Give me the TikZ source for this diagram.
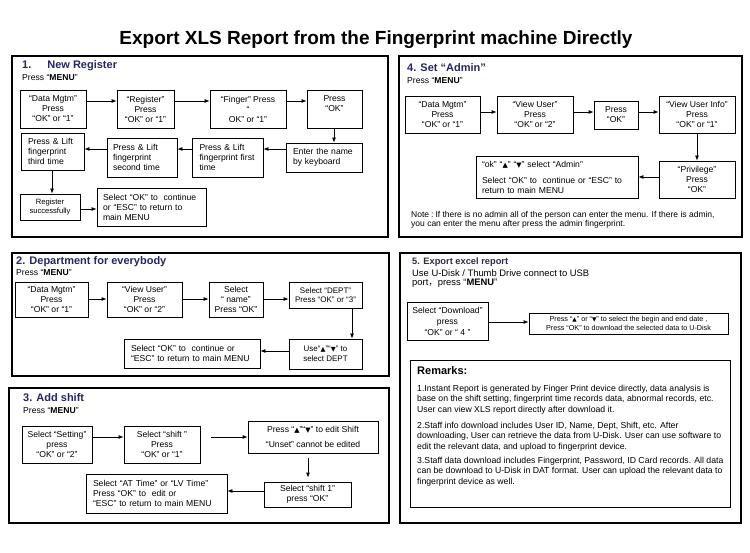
\documentclass[tikz,border=0pt]{standalone}
\usepackage{fontspec}
\setmainfont{Liberation Sans}
\newfontfamily\mysymf[Scale=0.8]{DejaVu Sans}
\newfontfamily\mycjkf{Noto Sans CJK SC}
\usetikzlibrary{arrows.meta}
\definecolor{titleblue}{RGB}{38,38,100}
\definecolor{fivecol}{RGB}{45,45,70}
\newcommand\tup{{\mysymf ▲}}
\newcommand\tdn{{\mysymf ▼}}
\newcommand\myboxfont{\fontsize{8.6}{10}\selectfont}
\newcommand\mysmallfont{\fontsize{8}{9.5}\selectfont}
\newcommand\mysecfont{\fontsize{11}{13}\selectfont\bfseries}
\newcommand\mytitlefont{\fontsize{19}{22}\selectfont\bfseries}
\newcommand\myremfont{\fontsize{8.7}{10.4}\selectfont}
\begin{document}
\begin{tikzpicture}[x=1pt,y=-1pt,
  box/.style={draw, line width=0.8pt, inner sep=0pt, align=center, font=\myboxfont},
  lbox/.style={box, align=left},
  panel/.style={draw, line width=1.8pt},
  arr/.style={line width=0.8pt, -{Latex[length=5pt,width=4pt]}},
  sect/.style={anchor=west, inner sep=0pt, font=\mysecfont, text=titleblue},
  sub/.style={anchor=west, inner sep=0pt, font=\myboxfont},
  para/.style={anchor=north west, inner sep=0pt, align=left, font=\myremfont},
]
\useasboundingbox[fill=white] (0,0) rectangle (750,553);

\node[font=\mytitlefont, inner sep=0pt] (title) at (376,40) {Export XLS Report from the Fingerprint machine Directly};

% panels
\draw[panel] (12,56) rectangle (388,237);
\draw[panel] (399,56) rectangle (742,237);
\draw[panel] (12,253) rectangle (389,376);
\draw[panel] (9,388) rectangle (389,523);
\draw[panel] (400,253) rectangle (741,523);
\draw[line width=0.8pt] (410,360) rectangle (730,507);

% ---------- Panel 1
\node[sect] (t1) at (22,66) {1.\hspace{16pt}New Register};
\node[sub] (m1) at (22,78) {Press “\textbf{MENU}”};
\node[box, minimum width=66pt, minimum height=38pt] (A1) at (53,109) {“Data Mgtm”\\Press\\“OK” or “1”};
\node[box, minimum width=57pt, minimum height=38pt] (A2) at (145.5,109) {“Register”\\Press\\“OK” or “1”};
\node[box, minimum width=76pt, minimum height=38pt] (A3) at (248,109) {“Finger” Press\\“\\OK” or “1”};
\node[box, minimum width=55pt, minimum height=38pt] (A4) at (334.5,109) {Press\\“OK”\\~};
\node[lbox, text width=62pt, inner xsep=7pt, minimum height=29pt] (B1) at (324,157.5) {Enter the name\\by keyboard};
\node[lbox, text width=56pt, inner xsep=7.5pt, minimum height=39pt] (B2) at (227.5,157.5) {Press \& Lift\\fingerprint first\\time};
\node[lbox, text width=58pt, inner xsep=6pt, minimum height=39pt] (B3) at (142,157.5) {Press \& Lift\\fingerprint\\second time};
\node[lbox, text width=49pt, inner xsep=7pt, minimum height=37pt] (B4) at (52.5,151.5) {Press \& Lift\\fingerprint\\third time};
\node[box, font=\fontsize{7.6}{9}\selectfont, minimum width=60pt, minimum height=26pt] (C1) at (50,207) {Register\\successfully};
\node[lbox, text width=97pt, inner xsep=6pt, minimum height=38pt] (C2) at (151.5,207) {Select “OK” to~ continue\\or “ESC” to return to\\main MENU};
\draw[arr] (A1.east |- 0,101) -- (A2.west |- 0,101);
\draw[arr] (A2.east |- 0,101) -- (A3.west |- 0,101);
\draw[arr] (A3.east |- 0,101) -- (A4.west |- 0,101);
\draw[arr] (A4.south -| 334,0) -- (B1.north -| 334,0);
\draw[arr] (B1.west |- 0,149) -- (B2.east |- 0,149);
\draw[arr] (B2.west |- 0,149) -- (B3.east |- 0,149);
\draw[arr] (B3.west |- 0,149) -- (B4.east |- 0,149);
\draw[arr] (B4.south -| 52,0) -- (C1.north -| 52,0);
\draw[arr] (C1.east |- 0,209) -- (C2.west |- 0,209);

% ---------- Panel 4
\node[sect] (t4) at (407,68) {4. Set “Admin”};
\node[sub] (m4) at (407,81) {Press “\textbf{MENU}”};
\node[box, minimum width=75pt, minimum height=37pt] (D1) at (442.5,114.5) {“Data Mgtm”\\Press\\“OK” or “1”};
\node[box, minimum width=76pt, minimum height=37pt] (D2) at (535,114.5) {“View User”\\Press\\“OK” or “2”};
\node[box, minimum width=44pt, minimum height=28pt] (D3) at (616,115) {Press\\“OK”};
\node[box, minimum width=76pt, minimum height=37pt] (D4) at (697,114.5) {“View User Info”\\Press\\“OK” or “1”};
\node[box, minimum width=76pt, minimum height=37pt] (E1) at (697,179.5) {“Privilege”\\Press\\“OK”};
\node[lbox, text width=150pt, inner xsep=6pt, minimum height=42pt] (E2) at (557,177) {“ok” “\tup” “\tdn” select “Admin”\\[6pt]Select “OK” to~ continue or “ESC” to\\return to main MENU};
\draw[arr] (D1.east |- 0,112) -- (D2.west |- 0,112);
\draw[arr] (D2.east |- 0,112) -- (D3.west |- 0,112);
\draw[arr] (D3.east |- 0,112) -- (D4.west |- 0,112);
\draw[arr] (D4.south) -- (E1.north);
\draw[arr] (E1.west |- 0,177) -- (E2.east |- 0,177);
\node[para, font=\fontsize{8.5}{9.6}\selectfont] (note) at (411,210.8) {Note\hspace{2pt}:\hspace{2pt}If there is no admin all of the person can enter the menu. If there is admin,\\you can enter the menu after press the admin fingerprint.};

% ---------- Panel 2
\node[sect] (t2) at (16,262) {2. Department for everybody};
\node[sub] (m2) at (16,273) {Press “\textbf{MENU}”};
\node[box, minimum width=73pt, minimum height=35pt] (F1) at (51.5,299.5) {“Data Mgtm”\\Press\\“OK” or “1”};
\node[box, minimum width=75pt, minimum height=35pt] (F2) at (144.5,299.5) {“View User”\\Press\\“OK” or “2”};
\node[box, minimum width=54pt, minimum height=35pt] (F3) at (236,299.5) {Select\\“ name”\\Press “OK”};
\node[box, font=\mysmallfont, minimum width=73pt, minimum height=26pt] (F4) at (325.5,295) {Select “DEPT”\\Press “OK” or “3”};
\node[box, font=\mysmallfont, minimum width=73pt, minimum height=30pt] (G1) at (325.5,354) {Use“\tup”“\tdn” to\\select DEPT};
\node[lbox, text width=122pt, inner xsep=7pt, minimum height=29pt] (G2) at (192,353.5) {Select “OK” to~ continue or\\“ESC” to return to main MENU};
\draw[arr] (F1.east |- 0,299) -- (F2.west |- 0,299);
\draw[arr] (F2.east |- 0,299) -- (F3.west |- 0,299);
\draw[arr] (F3.east |- 0,299) -- (F4.west |- 0,299);
\draw[arr] (F4.south -| 352,0) -- (G1.north -| 352,0);
\draw[arr] (G1.west |- 0,351) -- (G2.east |- 0,351);

% ---------- Panel 3
\node[sect] (t3) at (23,398) {3. Add shift};
\node[sub] (m3) at (23,411) {Press “\textbf{MENU}”};
\node[box, minimum width=70pt, minimum height=37pt] (H1) at (57,444.5) {Select “Setting”\\press\\“OK” or “2”};
\node[box, minimum width=76pt, minimum height=37pt] (H2) at (162,444.5) {Select “shift ”\\Press\\“OK” or “1”};
\node[box, minimum width=130pt, minimum height=32pt] (H3) at (313,437) {Press “\tup”“\tdn” to edit Shift\\[5pt]“Unset” cannot be edited};
\node[box, minimum width=87pt, minimum height=25pt] (I1) at (307.5,494.5) {Select “shift 1”\\press “OK”};
\node[lbox, text width=127pt, inner xsep=7pt, minimum height=39pt] (I2) at (156.5,493.5) {Select “AT Time” or “LV Time”\\Press “OK” to~ edit or\\“ESC” to return to main MENU};
\draw[arr] (H1.east |- 0,437) -- (H2.west |- 0,437);
\draw[arr, shorten <=11pt] (H2.east |- 0,437) -- (H3.west |- 0,437);
\draw[arr, shorten <=5pt, shorten >=4pt] (H3.south -| 308,0) -- (I1.north -| 308,0);
\draw[arr] (I1.west |- 0,491) -- (I2.east |- 0,491);

% ---------- Panel 5
\node[anchor=west, inner sep=0pt, font=\fontsize{9.3}{11}\selectfont\bfseries, text=fivecol] (t5) at (412,262) {5. Export excel report};
\node[anchor=west, inner sep=0pt, font=\fontsize{9.4}{11}\selectfont] (u5) at (412,273) {Use U-Disk / Thumb Drive connect to USB};
\node[anchor=west, inner sep=0pt, font=\fontsize{9.4}{11}\selectfont] (p5) at (412,283.5) {port{\mycjkf ，}press “\textbf{MENU}”};
\node[box, minimum width=81pt, minimum height=38pt, font=\fontsize{8.6}{11}\selectfont] (J1) at (447.5,321) {Select “Download”\\press\\“OK” or “ 4 ”};
\node[box, minimum width=199pt, minimum height=21pt, font=\fontsize{7.2}{8.4}\selectfont] (J2) at (628.5,323.5) {Press “\tup” or “\tdn” to select the begin and end date ,\\Press “OK” to download the selected data to U-Disk};
\draw[arr] (J1.east |- 0,322) -- (J2.west |- 0,322);

% Remarks
\node[anchor=west, inner sep=0pt, font=\fontsize{11}{13}\selectfont\bfseries] (rem) at (417,371) {Remarks:};
\node[para] (r1) at (417,384.8) {1.Instant Report is generated by Finger Print device directly, data analysis is\\base on the shift setting, fingerprint time records data, abnormal records, etc.\\User can view XLS report directly after download it.};
\node[para] (r2) at (417,421.8) {2.Staff info download includes User ID, Name, Dept, Shift, etc. After\\downloading, User can retrieve the data from U-Disk. User can use software to\\edit the relevant data, and upload to fingerprint device.};
\node[para] (r3) at (417,456.8) {3.Staff data download includes Fingerprint, Password, ID Card records. All data\\can be download to U-Disk in DAT format. User can upload the relevant data to\\fingerprint device as well.};
\end{tikzpicture}
\end{document}
